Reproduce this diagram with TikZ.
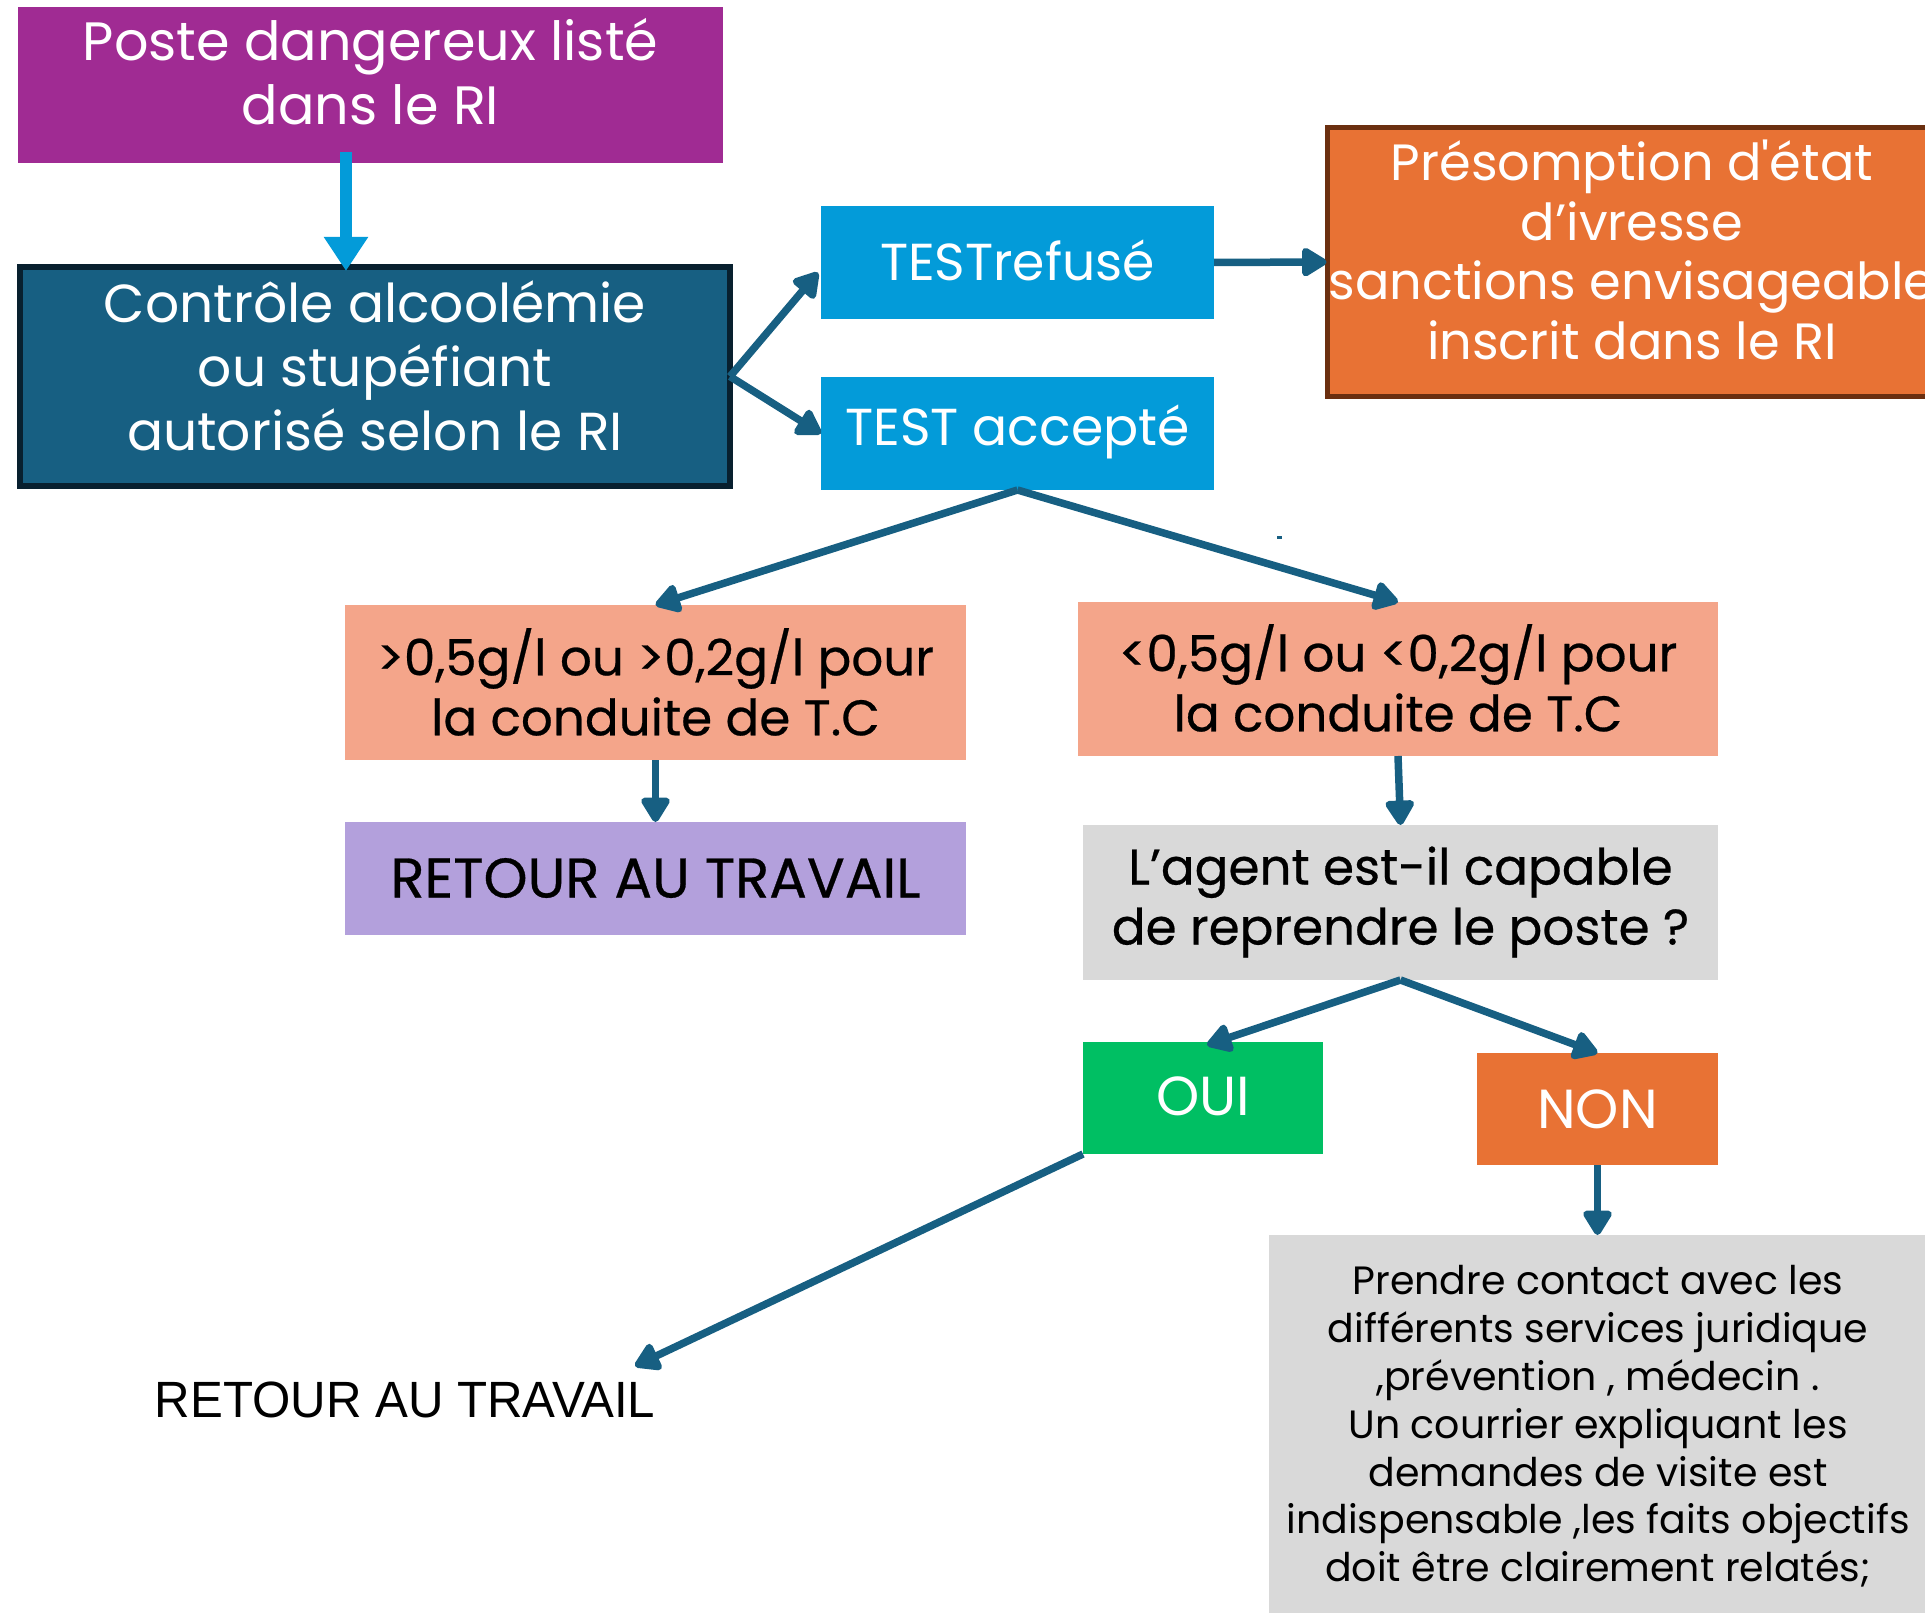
\documentclass[tikz,border=0pt]{standalone}
\usepackage{fontspec}
\usepackage{graphicx}
\setmainfont{Poppins}
\newfontfamily\libsans{Liberation Sans}
\newfontfamily\popmed[FakeBold=0.5]{Poppins}
\newfontfamily\popraw[Ligatures=ResetAll]{Poppins}
\usetikzlibrary{arrows.meta}
\definecolor{purp}{HTML}{A02B93}
\definecolor{cyanb}{HTML}{039BD9}
\definecolor{navy}{HTML}{175F82}
\definecolor{navyd}{HTML}{08202F}
\definecolor{orng}{HTML}{E87234}
\definecolor{brwn}{HTML}{6B2F10}
\definecolor{salm}{HTML}{F4A58A}
\definecolor{lav}{HTML}{B3A0DC}
\definecolor{grayb}{HTML}{D9D9D9}
\definecolor{grn}{HTML}{00BF63}
\tikzset{
  box/.style={rectangle, inner sep=0pt, outer sep=0pt},
  wtxt/.style={text=white, align=center, inner sep=0pt},
  btxt/.style={text=black, align=center, inner sep=0pt},
  conn/.style={draw=navy, line width=7.5pt, -{Triangle[round,length=28pt,width=32pt]}},
}
\begin{document}
\begin{tikzpicture}[x=1pt,y=-1pt]
\useasboundingbox (0,0) rectangle (1925,1613);
\clip (0,0) rectangle (1925,1613);
% boxes
\node[box, fill=purp, minimum width=705pt, minimum height=156pt] (p1) at (370.5,85) {};
\node[wtxt, font=\fontsize{54}{64}\selectfont] (p1t) at (370.5,72) {Poste dangereux listé\\dans le RI};

\node[box, fill=navy, draw=navyd, line width=6pt, minimum width=710pt, minimum height=219pt] (c1) at (375,376.5) {};
\node[wtxt, font=\fontsize{53.5}{64}\selectfont] (c1t) at (375,366) {Contrôle alcoolémie\\ou stupéfiant\\autorisé selon le RI};

\node[box, fill=cyanb, minimum width=393pt, minimum height=113pt] (tr) at (1017.5,262.5) {};
\node[wtxt, font=\fontsize{52}{60}\selectfont] (trt) at (1017.5,260) {TESTrefusé};
\node[box, fill=cyanb, minimum width=393pt, minimum height=113pt] (ta) at (1017.5,433.5) {};
\node[wtxt, font=\fontsize{52}{60}\selectfont] (tat) at (1017.5,432) {TEST accepté};

\node[box, fill=orng, draw=brwn, line width=5pt, minimum width=615pt, minimum height=269pt, anchor=north west] (pr) at (1327.5,127.5) {};
\node[wtxt, font=\fontsize{51}{59.5}\selectfont] (prt) at (1632,250) {Présomption d{\popraw'}état\\d’ivresse\\sanctions envisageable\\inscrit dans le RI};

\node[box, fill=salm, minimum width=621pt, minimum height=155pt] (ls) at (655.5,682.5) {};
\node[btxt, font=\popmed\fontsize{50}{60}\selectfont] (lst) at (655.5,682) {>0,5g/l ou >0,2g/l pour\\la conduite de T.C};
\node[box, fill=salm, minimum width=640pt, minimum height=154pt] (rs) at (1398,679) {};
\node[btxt, font=\popmed\fontsize{50}{60}\selectfont] (rst) at (1398,678) {<0,5g/l ou <0,2g/l pour\\la conduite de T.C};

\node[box, fill=lav, minimum width=621pt, minimum height=113pt] (rb) at (655.5,878.5) {};
\node[btxt, font=\popmed\fontsize{56}{60}\selectfont] (rbt) at (655.5,878) {RETOUR AU TRAVAIL};

\node[box, fill=grayb, minimum width=635pt, minimum height=155pt] (ag) at (1400.5,902.5) {};
\node[btxt, font=\popmed\fontsize{50}{60}\selectfont] (agt) at (1400.5,902) {L’agent est-il capable\\de reprendre le poste ?};

\node[box, fill=grn, minimum width=240pt, minimum height=112pt] (oui) at (1203,1098) {};
\node[wtxt, font=\fontsize{55}{60}\selectfont] (ouit) at (1203,1096) {OUI};
\node[box, fill=orng, minimum width=241pt, minimum height=112pt] (non) at (1597.5,1109) {};
\node[wtxt, font=\fontsize{55}{60}\selectfont] (nont) at (1597.5,1109) {NON};

\node[box, fill=grayb, minimum width=671pt, minimum height=390pt, anchor=north west] (bg) at (1269,1235) {};
\node[btxt, font=\fontsize{39.5}{47.8}\selectfont] (bgt) at (1598,1426.5) {Prendre contact avec les\\différents services juridique\\,prévention , médecin .\\Un courrier expliquant les\\demandes de visite est\\indispensable ,les faits objectifs\\doit être clairement relatés;};

\node[btxt, font=\libsans\fontsize{51}{56}\selectfont] (rt) at (405,1400) {\scalebox{0.965}[1]{RETOUR AU TRAVAIL}};
\coordinate (rtin) at (635,1366);

% stray mark
\fill[navy] (1277,536) rectangle (1282,539);

% connectors
\draw[draw=cyanb, line width=12pt, -{Triangle[length=34pt,width=42pt]}] ([xshift=-24.5pt,yshift=11pt]p1.south) -- ([xshift=-29pt,yshift=-4pt]c1.north);
\draw[conn] (c1.east) -- ([xshift=-3pt,yshift=-10pt]tr.west);
\draw[conn] (c1.east) -- (ta.west);
\draw[conn] (tr.east) -- ([xshift=-1pt]pr.west);
\draw[conn] (ta.south) -- (ls.north);
\draw[conn] (ta.south) -- (rs.north);
\draw[conn] (ls.south) -- (rb.north);
\draw[conn] (rs.south) -- (ag.north);
\draw[conn] (ag.south) -- ([xshift=4pt,yshift=-3pt]oui.north);
\draw[conn] (ag.south) -- (non.north);
\draw[conn] (non.south) -- (non.south |- bg.north);
\draw[conn] (oui.south west) -- (rtin);
\end{tikzpicture}
\end{document}
